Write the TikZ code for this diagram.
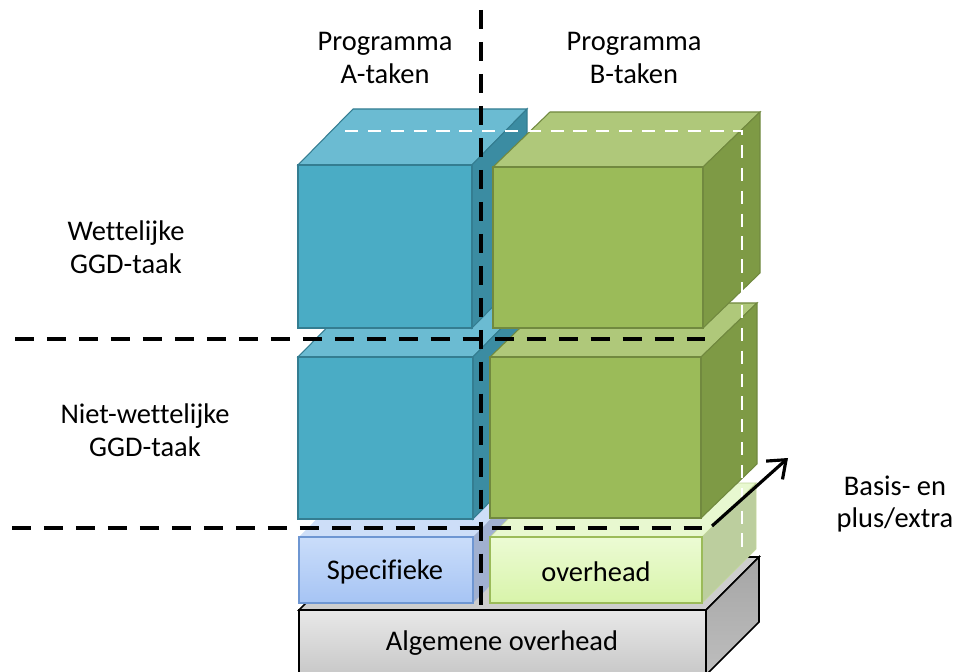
\documentclass[tikz,border=0pt]{standalone}
\usepackage{fontspec}
\setmainfont{Carlito}[Ligatures={NoCommon}]
\usetikzlibrary{arrows.meta}
\definecolor{bfront}{HTML}{4AACC5}
\definecolor{btop}{HTML}{6BBBD2}
\definecolor{bside}{HTML}{3B8CA2}
\definecolor{bline}{HTML}{347D91}
\definecolor{gfront}{HTML}{9BBB59}
\definecolor{gtop}{HTML}{AFC87A}
\definecolor{gside}{HTML}{7E9A45}
\definecolor{gline}{HTML}{71893F}
\newcommand\cuboid[9]{%
  \filldraw[#8] (#1,#2) -- ({#1+#5},{#2-#6}) -- ({#3+#5},{#2-#6}) -- (#3,#2) -- cycle;
  \filldraw[#9] (#3,#2) -- ({#3+#5},{#2-#6}) -- ({#3+#5},{#4-#6}) -- (#3,#4) -- cycle;
  \filldraw[#7] (#1,#2) rectangle (#3,#4);
}
\tikzset{
  lbl/.style={align=center, font=\fontsize{16.2}{18.7}\selectfont, inner sep=0pt},
  blk/.style={black, line width=2.8pt, dash pattern=on 10.8pt off 7.4pt},
  wht/.style={white, line width=1.6pt, dash pattern=on 7.5pt off 5.5pt},
}
\begin{document}
\begin{tikzpicture}[x=0.02cm, y=-0.02cm]
\useasboundingbox (0,0) rectangle (961,672);
\clip (0,0) rectangle (961,672);
% Algemene overhead
\cuboid{299}{610}{706}{675}{53}{53}{draw=black, line width=0.9pt, top color={rgb,255:red,232;green,232;blue,232}, bottom color={rgb,255:red,200;green,200;blue,200}}{draw=black, line width=0.9pt, fill={rgb,255:red,205;green,205;blue,205}}{draw=black, line width=0.9pt, top color={rgb,255:red,165;green,165;blue,165}, bottom color={rgb,255:red,190;green,190;blue,190}}
% Specifieke
\cuboid{299}{537}{473}{603}{55}{56}{draw={rgb,255:red,110;green,150;blue,210}, line width=0.6pt, top color={rgb,255:red,202;green,221;blue,250}, bottom color={rgb,255:red,166;green,196;blue,244}}{draw=none, fill={rgb,255:red,205;green,222;blue,248}}{draw=none, fill={rgb,255:red,160;green,176;blue,208}}
% Overhead
\cuboid{490}{537}{702}{603}{54}{54}{draw=gfront, line width=0.6pt, top color={rgb,255:red,236;green,251;blue,212}, bottom color={rgb,255:red,216;green,244;blue,170}}{draw=gfront!60, line width=0.4pt, fill={rgb,255:red,232;green,248;blue,208}}{draw=gfront!60, line width=0.4pt, fill={rgb,255:red,188;green,206;blue,158}}
% lower cubes
\cuboid{298}{357}{473}{519}{55}{56}{draw=bline, line width=0.8pt, fill=bfront}{draw=bline, line width=0.6pt, fill=btop}{draw=bline, line width=0.6pt, fill=bside}
\cuboid{490}{357}{701}{518}{56}{54}{draw=gline, line width=0.8pt, fill=gfront}{draw=gline, line width=0.6pt, fill=gtop}{draw=gline, line width=0.6pt, fill=gside}
% upper cubes
\cuboid{298}{165}{472}{328}{55}{56}{draw=bline, line width=0.8pt, fill=bfront}{draw=bline, line width=0.6pt, fill=btop}{draw=bline, line width=0.6pt, fill=bside}
\cuboid{493}{167}{703}{328}{57}{55}{draw=gline, line width=0.8pt, fill=gfront}{draw=gline, line width=0.6pt, fill=gtop}{draw=gline, line width=0.6pt, fill=gside}
% box texts
\node[lbl] (spec) at (385,572) {Specifieke};
\node[lbl] (ovh) at (596,572) {overhead};
\node[lbl] (alg) at (502,643) {Algemene overhead};
% white dashed
\coordinate (w1) at (345,131);
\coordinate (w2) at (742,131);
\coordinate (w3) at (742,555);
\draw[wht] (w1) -- (w2) -- (w3);
% black dashed
\coordinate (v1) at (481,10);
\coordinate (v2) at (481,607);
\draw[blk] (v1) -- (v2);
\coordinate (h1a) at (15,339);
\coordinate (h1b) at (708,339);
\draw[blk] (h1a) -- (h1b);
\coordinate (h2a) at (12,528);
\coordinate (h2b) at (708,528);
\draw[blk] (h2a) -- (h2b);
\coordinate (a1) at (712,526);
\coordinate (a2) at (788,458);
\draw[line width=1.8pt, -{Straight Barb[length=9pt, width=14pt, line width=1.8pt]}] (a1) -- (a2);
% labels
\node[lbl] (pa) at (385,58) {Programma\\A-taken};
\node[lbl] (pb) at (634,58) {Programma\\B-taken};
\node[lbl] (wet) at (126,247) {Wettelijke\\GGD-taak};
\node[lbl] (nwet) at (145,430) {Niet-wettelijke\\GGD-taak};
\node[lbl] (bas) at (895,504) {Basis- en\\plus/extra};
\end{tikzpicture}
\end{document}
